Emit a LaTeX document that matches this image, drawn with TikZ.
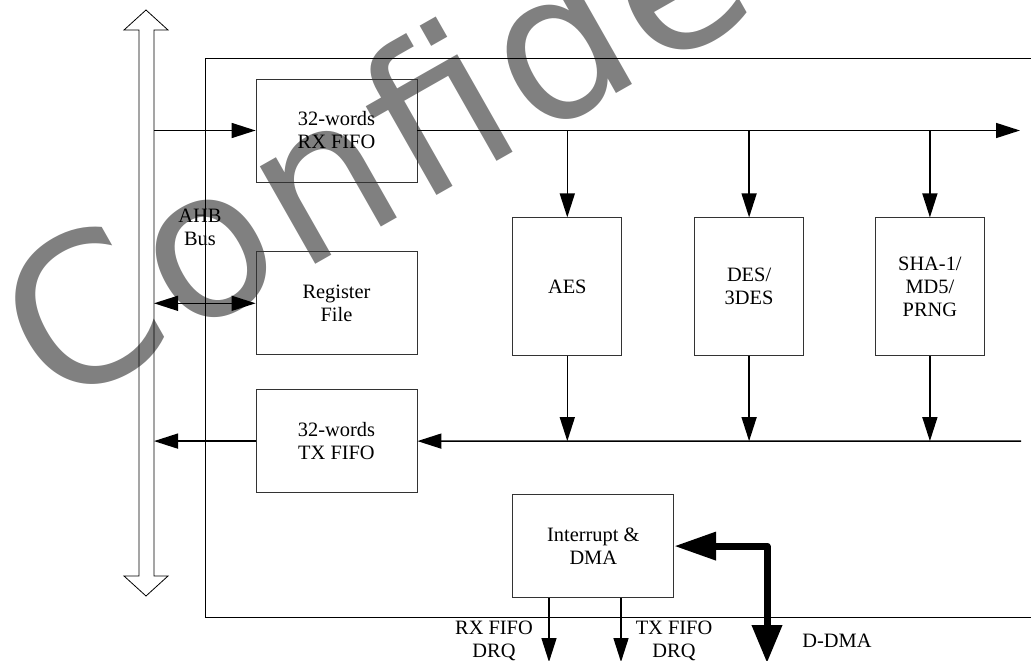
\documentclass[tikz,border=0pt]{standalone}
\usepackage{fontspec}
\setmainfont{Liberation Serif}
\newfontfamily\markfont{DejaVu Sans}[LetterSpace=3]
\usetikzlibrary{arrows.meta, positioning}

\begin{document}
\begin{tikzpicture}[
    x=1pt, y=-1pt,
    box/.style={draw=black!80, line width=0.8pt, minimum width=161pt, minimum height=103pt, align=center, inner sep=0pt, font=\fontsize{20.4}{23}\selectfont},
    engine/.style={box, minimum width=109pt, minimum height=138pt},
    tag/.style={align=center, inner sep=0pt, font=\fontsize{20.4}{23}\selectfont},
    arrow/.style={-{Triangle[length=24pt, width=15pt]}, line width=1.5pt},
    fatarrow/.style={{Triangle[length=42pt, width=27pt]}-{Triangle[length=38pt, width=29pt]}, line width=7pt, line join=round},
    outline/.style={line width=0.8pt}
]
    \useasboundingbox (0,0) rectangle (1031,661);
    \clip (0,0) rectangle (1031,661);

    % watermark
    \node[anchor=base west, rotate=29.6, inner sep=0pt, text=black!50, font=\markfont\fontsize{205}{205}\selectfont] (mark) at (55,412.5) {Confidential};

    % AHB bus
    \draw[outline] (146,10) -- (168,30) -- (154,30) -- (154,576) -- (168,576) -- (146,596) -- (124,576) -- (139,576) -- (139,30) -- (124,30) -- cycle;
    \coordinate (busright) at (154,0);
    \node[tag] (ahb) at (200,227) {AHB\\Bus};

    % block outline
    \draw[outline] (1040,58) -| (205,617) -- (1040,617);

    \node[box] (rxfifo) at (336.5,130.5) {32-words\\RX FIFO};
    \node[box, below=69pt of rxfifo] (regfile) {Register\\File};
    \node[box, below=34pt of regfile] (txfifo) {32-words\\TX FIFO};

    \node[engine, below right=35pt and 95pt of rxfifo] (aes) {AES};
    \node[engine, right=72pt of aes] (des) {DES/\\3DES};
    \node[engine, right=71pt of des] (sha) {SHA-1/\\MD5/\\PRNG};

    \node[box, anchor=north west] (irq) at ([yshift=-138pt]aes.south west) {Interrupt \&\\DMA};

    \coordinate (rxend) at (1020,130.5);
    \coordinate (txend) at (1021,441);
    \coordinate (rxdrq) at (549,662);
    \coordinate (txdrq) at (621,662);
    \coordinate (ddma) at (767,663);

    % bus side
    \draw[arrow] (rxfifo.west -| busright) -- (rxfifo.west);
    \draw[arrow, {Triangle[length=24pt, width=15pt]}-{Triangle[length=24pt, width=15pt]}] (regfile.west -| busright) -- (regfile.west);
    \draw[arrow] (txfifo.west) -- (txfifo.west -| busright);

    % data paths
    \draw[arrow] (rxfifo.east) -- (rxend);
    \draw[arrow] (txend) -- (txfifo.east);
    \foreach \eng in {aes, des, sha} {
        \draw[arrow] (\eng.north |- rxfifo.east) -- (\eng.north);
        \draw[arrow] (\eng.south) -- (\eng.south |- txfifo.east);
    }

    % requests
    \draw[arrow] (irq.south -| rxdrq) -- (rxdrq);
    \draw[arrow] (irq.south -| txdrq) -- (txdrq);
    \draw[fatarrow] (irq.east) -- (irq.east -| ddma) -- (ddma);

    \node[tag] (rxlbl) at (494,640.5) {RX FIFO\\DRQ};
    \node[tag] (txlbl) at (674,640.5) {TX FIFO\\DRQ};
    \node[tag] (ddmalbl) at (837,641) {D-DMA};
\end{tikzpicture}
\end{document}
